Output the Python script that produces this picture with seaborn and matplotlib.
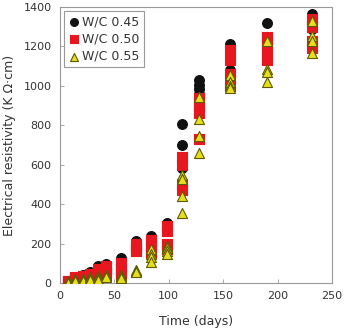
import pandas as pd
import matplotlib
matplotlib.use("Agg")
import matplotlib.pyplot as plt
import seaborn as sns

# ─── Data ─────────────────────────────────────────────────────────────────────
DAYS = [7, 14, 21, 28, 35, 42, 56, 70, 84, 98, 112, 128, 156, 190, 232]

# four specimens per age, resistivity in kOhm.cm
WC045 = [
    [12, 10, 8, 6], [30, 25, 22, 20], [40, 35, 30, 28], [55, 48, 42, 38],
    [85, 75, 65, 55], [97, 90, 80, 70], [127, 110, 95, 80], [212, 200, 190, 180],
    [237, 225, 210, 200], [302, 290, 280, 270], [806, 701, 610, 585],
    [1030, 1005, 985, 960], [1210, 1180, 1080, 1060], [1320, 1250, 1215, 1200],
    [1365, 1350, 1290, 1210],
]
WC050 = [
    [10, 8, 5, 3], [30, 25, 20, 15], [38, 32, 25, 20], [48, 40, 33, 28],
    [72, 60, 45, 30], [88, 75, 55, 40], [100, 80, 60, 40], [200, 185, 170, 160],
    [220, 200, 175, 150], [290, 265, 200, 175], [640, 600, 500, 470],
    [940, 900, 860, 730], [1180, 1130, 1060, 1000], [1250, 1230, 1180, 1130],
    [1340, 1300, 1230, 1190],
]
WC055 = [
    [8, 5, 3, 2], [20, 15, 12, 10], [22, 18, 15, 12], [28, 22, 18, 15],
    [38, 30, 22, 15], [42, 38, 35, 32], [40, 35, 30, 25], [68, 62, 60, 58],
    [170, 145, 130, 105], [190, 180, 160, 145], [550, 530, 440, 355],
    [945, 830, 745, 660], [1055, 1020, 1000, 990], [1230, 1085, 1070, 1020],
    [1330, 1255, 1230, 1165],
]
LABELS = ["W/C 0.45", "W/C 0.50", "W/C 0.55"]

# ─── Styling ──────────────────────────────────────────────────────────────────
sns.set_style("ticks")
plt.rcParams["font.family"] = ["DejaVu Sans"]

STYLES = [
    dict(marker="o", color="#111111", edgecolor="#111111", s=50),
    dict(marker="s", color="#e8161f", edgecolor="#e8161f", s=42),
    dict(marker="^", color="#e6df1c", edgecolor="#5e5a00", s=52),
]


def long_form(values, label):
    rows = []
    for d, reps in zip(DAYS, values):
        for v in reps:
            rows.append({"day": d, "res": v, "wc": label})
    return pd.DataFrame(rows)


fig = plt.figure(figsize=(3.45, 3.28), dpi=100)
ax = fig.add_axes([60 / 345, 1 - 283 / 328, 272 / 345, 276 / 328])

for values, label, st in zip([WC045, WC050, WC055], LABELS, STYLES):
    df = long_form(values, label)
    sns.scatterplot(
        data=df, x="day", y="res", ax=ax, label=label,
        marker=st["marker"], color=st["color"], edgecolor=st["edgecolor"],
        s=st["s"], linewidth=0.8, zorder=3,
    )

ax.set_xlim(0, 250)
ax.set_ylim(0, 1400)
ax.set_xticks(range(0, 251, 50))
ax.set_yticks(range(0, 1401, 200))
ax.tick_params(direction="in", length=3, width=0.6, color="#999999",
               labelsize=8, labelcolor="#333333", pad=6)
for sp in ax.spines.values():
    sp.set_color("#999999")
    sp.set_linewidth(0.8)

ax.set_xlabel("Time (days)", fontsize=9, color="#333333")
ax.set_ylabel("Electrical resistivity (K \u03a9\u00b7cm)", fontsize=9, color="#333333")
ax.xaxis.set_label_coords(0.5, -0.115)
ax.yaxis.set_label_coords(-0.16, 0.5)

leg = ax.legend(loc="upper left", bbox_to_anchor=(0.0, 1.0), borderaxespad=0.3,
                fancybox=False, framealpha=1, edgecolor="#999999",
                fontsize=9, handletextpad=0.1, handlelength=1.0,
                labelspacing=0.35, borderpad=0.35, markerscale=0.8)
leg.get_frame().set_linewidth(0.8)
for t in leg.get_texts():
    t.set_color("#333333")

fig.savefig("out.png", dpi=100)
